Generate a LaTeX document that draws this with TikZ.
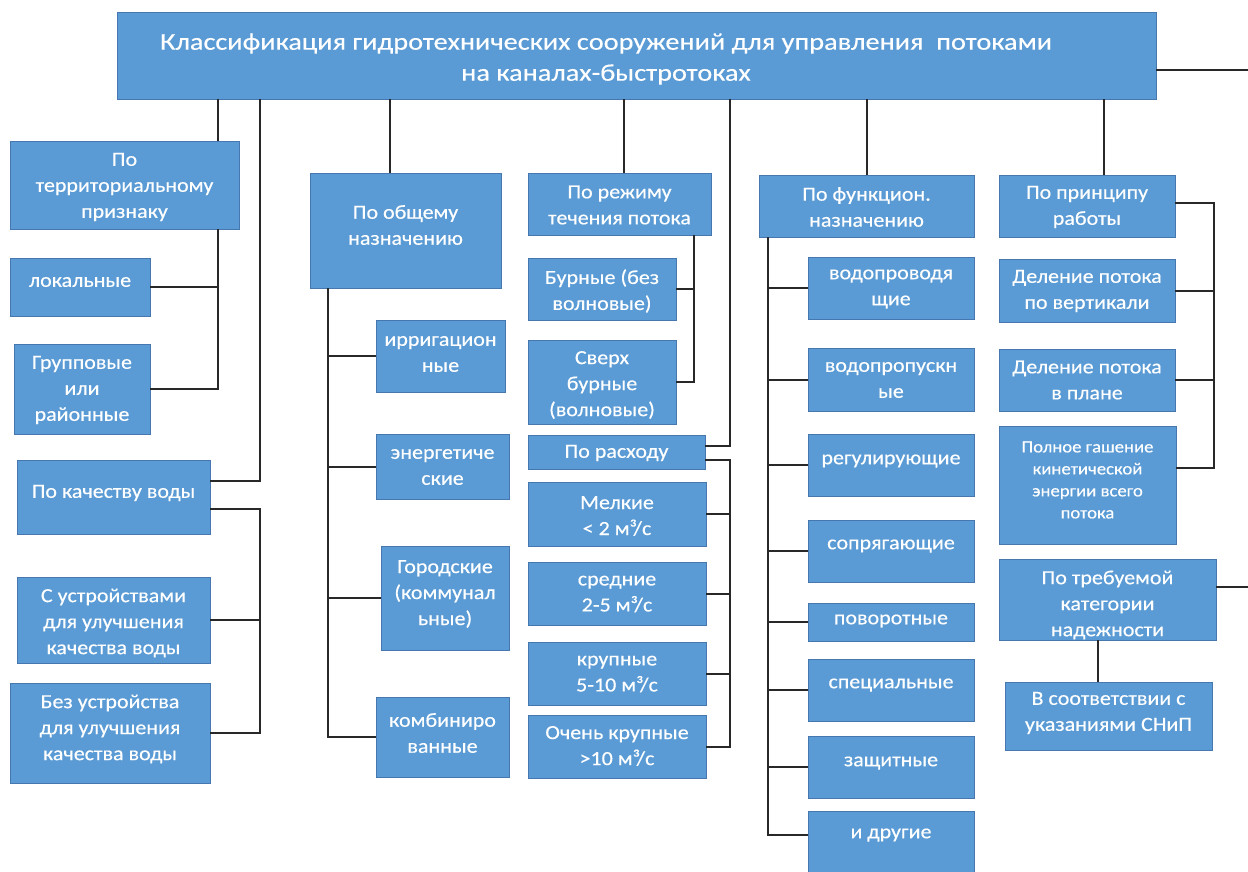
\documentclass[tikz,border=0pt]{standalone}
\usepackage{fontspec}
\setmainfont{Carlito}
\newfontfamily\bodyf[FakeStretch=1.1,FakeBold=0.3]{Carlito}
\newfontfamily\titf[FakeStretch=1.18,FakeBold=0.3]{Carlito}
\usetikzlibrary{fit,calc}
\definecolor{boxfill}{RGB}{91,155,213}
\definecolor{boxline}{RGB}{70,120,175}
\definecolor{lncol}{RGB}{40,40,40}
\newcommand\mkbox[5]{\node[box, fit={(#2,#3) (#4,#5)}] (#1) {};}
\begin{document}
\begin{tikzpicture}[x=1pt,y=-1pt,
  box/.style={draw=boxline, fill=boxfill, line width=0.9pt, inner sep=0pt},
  txt/.style={text=white, align=center, inner sep=0pt, font=\bodyf\fontsize{20}{26}\selectfont},
  ttl/.style={text=white, align=center, inner sep=0pt, font=\titf\fontsize{24}{31}\selectfont},
  sml/.style={text=white, align=center, inner sep=0pt, font=\bodyf\fontsize{17}{22}\selectfont},
  ln/.style={draw=lncol, line width=2pt}]
\useasboundingbox (0,0) rectangle (1248,871);
\clip (0,0) rectangle (1248,871);
% ---------- boxes ----------
\mkbox{title}{117}{12}{1156}{99}
\mkbox{terr}{10}{141}{239}{229}
\mkbox{lok}{10}{258}{150}{316}
\mkbox{grp}{14}{344}{150}{434}
\mkbox{kach}{17}{460}{210}{534}
\mkbox{sust}{17}{577}{210}{663}
\mkbox{bez}{10}{683}{210}{783}
\mkbox{obsh}{310}{173}{501}{288}
\mkbox{irr}{376}{320}{505}{392}
\mkbox{en}{376}{434}{509}{499}
\mkbox{gor}{381}{546}{509}{650}
\mkbox{komb}{376}{697}{509}{777}
\mkbox{rezh}{528}{173}{711}{235}
\mkbox{bur}{528}{258}{676}{320}
\mkbox{sverh}{528}{340}{676}{424}
\mkbox{rash}{528}{435}{705}{469}
\mkbox{mel}{528}{482}{706}{546}
\mkbox{sred}{528}{562}{706}{625}
\mkbox{krup}{528}{642}{706}{705}
\mkbox{ochen}{528}{715}{706}{778}
\mkbox{func}{759}{175}{974}{237}
\mkbox{vodA}{808}{257}{974}{319}
\mkbox{vodB}{808}{348}{974}{411}
\mkbox{reg}{808}{434}{974}{496}
\mkbox{sopr}{808}{520}{974}{582}
\mkbox{pov}{808}{603}{974}{641}
\mkbox{spec}{808}{659}{974}{721}
\mkbox{zash}{808}{736}{974}{798}
\mkbox{drug}{808}{811}{974}{880}
\mkbox{princ}{999}{175}{1175}{237}
\mkbox{vert}{999}{259}{1175}{322}
\mkbox{plan}{999}{349}{1175}{411}
\mkbox{poln}{999}{426}{1176}{544}
\mkbox{treb}{999}{559}{1216}{640}
\mkbox{snip}{1005}{682}{1212}{750}
% ---------- texts ----------
\node[ttl] (titleT) at (606,59) {Классификация гидротехнических сооружений для управления\ \ потоками\\на каналах-быстротоках};
\node[txt] (terrT) at (124.5,187) {По\\территориальному\\признаку};
\node[txt] (lokT) at (80,282) {локальные};
\node[txt] (grpT) at (82,390) {Групповые\\или\\районные};
\node[txt] (kachT) at (113.5,493) {По качеству воды};
\node[txt] (sustT) at (113.5,623) {С устройствами\\для улучшения\\качества воды};
\node[txt] (bezT) at (110,729) {Без устройства\\для улучшения\\качества воды};
\node[txt] (obshT) at (405.5,225) {По общему\\назначению};
\node[txt] (irrT) at (440.5,354) {ирригацион\\ные};
\node[txt] (enT) at (442.5,467) {энергетиче\\ские};
\node[txt] (gorT) at (445,594) {Городские\\(коммунал\\ьные)};
\node[txt] (kombT) at (442.5,733) {комбиниро\\ванные};
\node[txt] (rezhT) at (619.5,205) {По режиму\\течения потока};
\node[txt] (burT) at (602,291) {Бурные (без\\волновые)};
\node[txt] (sverhT) at (602,385) {Сверх\\бурные\\(волновые)};
\node[txt] (rashT) at (616.5,453) {По расходу};
\node[txt] (melT) at (617,516) {Мелкие\\< 2 м³/с};
\node[txt] (sredT) at (617,594) {средние\\2-5 м³/с};
\node[txt] (krupT) at (617,674) {крупные\\5-10 м³/с};
\node[txt] (ochenT) at (617,746) {Очень крупные\\>10 м³/с};
\node[txt] (funcT) at (866.5,207) {По функцион.\\назначению};
\node[txt] (vodAT) at (891,289) {водопроводя\\щие};
\node[txt] (vodBT) at (891,380) {водопропускн\\ые};
\node[txt] (regT) at (891,461) {регулирующие};
\node[txt] (soprT) at (891,546) {сопрягающие};
\node[txt] (povT) at (891,621) {поворотные};
\node[txt] (specT) at (891,685) {специальные};
\node[txt] (zashT) at (891,763) {защитные};
\node[txt] (drugT) at (891,835) {и другие};
\node[txt] (princT) at (1087,207) {По принципу\\работы};
\node[txt] (vertT) at (1087,291) {Деление потока\\по вертикали};
\node[txt] (planT) at (1087,380) {Деление потока\\в плане};
\node[sml] (polnT) at (1087.5,480) {Полное гашение\\кинетической\\энергии всего\\потока};
\node[txt] (trebT) at (1107.5,605) {По требуемой\\категории\\надежности};
\node[txt] (snipT) at (1108.5,713) {В соответствии с\\указаниями СНиП};
% ---------- trunk coordinates ----------
\coordinate (xa) at (218,0);
\coordinate (xb) at (260,0);
\coordinate (xc) at (390,0);
\coordinate (xd) at (328,0);
\coordinate (xe) at (624,0);
\coordinate (xf) at (694,0);
\coordinate (xg) at (730,0);
\coordinate (xh) at (867,0);
\coordinate (xi) at (768,0);
\coordinate (xj) at (1104,0);
\coordinate (xk) at (1214,0);
\coordinate (xl) at (1098,0);
\coordinate (edge) at (1248,0);
\coordinate (kachA) at ([yshift=16pt]kach.east);
\coordinate (kachB) at ([yshift=-12pt]kach.east);
\coordinate (rashA) at ([yshift=6pt]rash.east);
\coordinate (rashB) at ([yshift=-8pt]rash.east);
\coordinate (princA) at ([yshift=3pt]princ.east);
\coordinate (polnA) at ([yshift=17pt]poln.east);
\coordinate (titleA) at ([yshift=-14.5pt]title.east);
\coordinate (trebA) at ([yshift=12.5pt]treb.east);
% ---------- connectors ----------
% column 1
\draw[ln] (title.south -| xa) -- (terr.north -| xa);
\draw[ln] (terr.south -| xa) -- (grp.east -| xa) -- (grp.east);
\draw[ln] (lok.east) -- (lok.east -| xa);
\draw[ln] (title.south -| xb) |- (kachA);
\draw[ln] (kachB) -| (xb |- bez.east) -- (bez.east);
\draw[ln] (sust.east) -- (sust.east -| xb);
% column 2
\draw[ln] (title.south -| xc) -- (obsh.north -| xc);
\draw[ln] (obsh.south -| xd) -- (xd |- komb.west) -- (komb.west);
\draw[ln] (irr.west) -- (irr.west -| xd);
\draw[ln] (en.west) -- (en.west -| xd);
\draw[ln] (gor.west) -- (gor.west -| xd);
% column 3
\draw[ln] (title.south -| xe) -- (rezh.north -| xe);
\draw[ln] (rezh.south -| xf) -- (xf |- sverh.east) -- (sverh.east);
\draw[ln] (bur.east) -- (bur.east -| xf);
\draw[ln] (title.south -| xg) |- (rashA);
\draw[ln] (rashB) -| (xg |- ochen.east) -- (ochen.east);
\draw[ln] (mel.east) -- (mel.east -| xg);
\draw[ln] (sred.east) -- (sred.east -| xg);
\draw[ln] (krup.east) -- (krup.east -| xg);
% column 4
\draw[ln] (title.south -| xh) -- (func.north -| xh);
\draw[ln] (func.south -| xi) -- (xi |- drugT) -- (drugT -| drug.west);
\draw[ln] (vodA.west) -- (vodA.west -| xi);
\draw[ln] (vodB.west) -- (vodB.west -| xi);
\draw[ln] (reg.west) -- (reg.west -| xi);
\draw[ln] (sopr.west) -- (sopr.west -| xi);
\draw[ln] (pov.west) -- (pov.west -| xi);
\draw[ln] (spec.west) -- (spec.west -| xi);
\draw[ln] (zash.west) -- (zash.west -| xi);
% column 5
\draw[ln] (title.south -| xj) -- (princ.north -| xj);
\draw[ln] (princA) -| (xk |- polnA) -- (polnA);
\draw[ln] (vert.east) -- (vert.east -| xk);
\draw[ln] (plan.east) -- (plan.east -| xk);
\draw[ln] (treb.south -| xl) -- (snip.north -| xl);
% lines leaving to the right
\draw[ln] (titleA) -- (titleA -| edge);
\draw[ln] (trebA) -- (trebA -| edge);
\end{tikzpicture}
\end{document}
